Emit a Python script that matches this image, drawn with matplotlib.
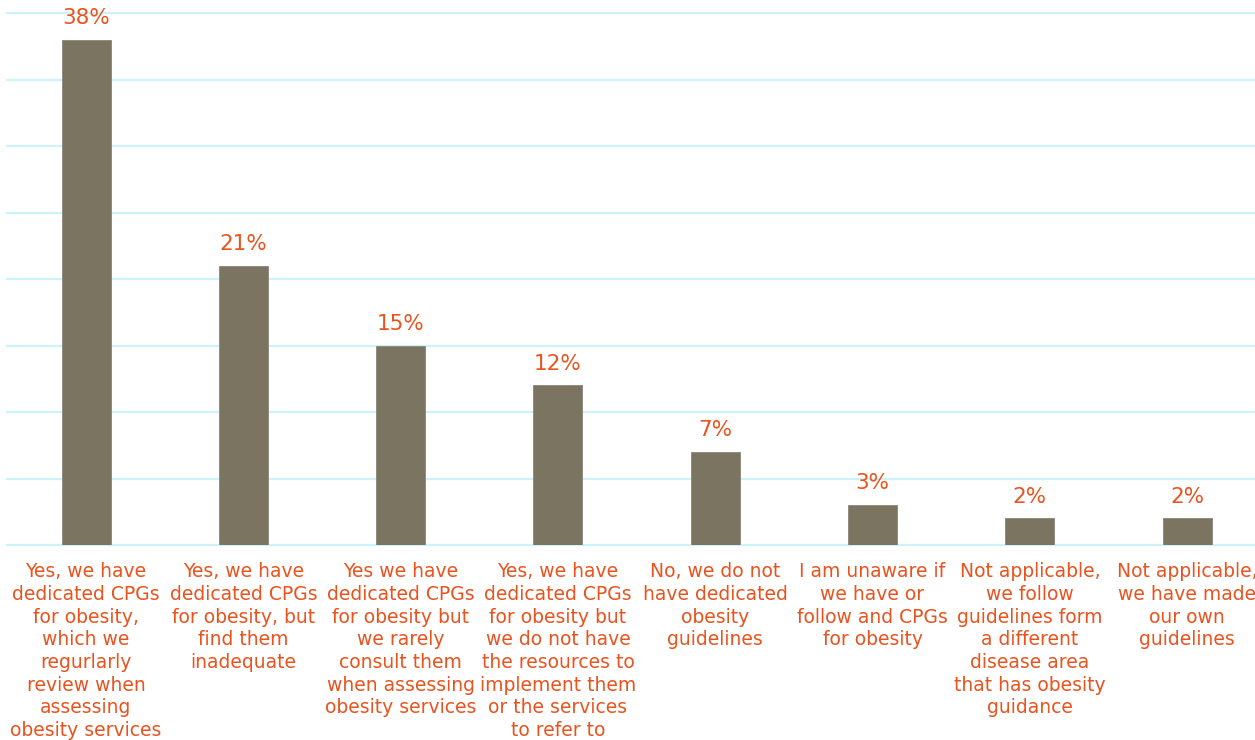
import matplotlib

matplotlib.use("Agg")
matplotlib.rcParams["font.family"] = ["DejaVu Sans"]
import matplotlib.pyplot as plt

categories = [
    "Yes, we have\ndedicated CPGs\nfor obesity,\nwhich we\nregurlarly\nreview when\nassessing\nobesity services",
    "Yes, we have\ndedicated CPGs\nfor obesity, but\nfind them\ninadequate",
    "Yes we have\ndedicated CPGs\nfor obesity but\nwe rarely\nconsult them\nwhen assessing\nobesity services",
    "Yes, we have\ndedicated CPGs\nfor obesity but\nwe do not have\nthe resources to\nimplement them\nor the services\nto refer to",
    "No, we do not\nhave dedicated\nobesity\nguidelines",
    "I am unaware if\nwe have or\nfollow and CPGs\nfor obesity",
    "Not applicable,\nwe follow\nguidelines form\na different\ndisease area\nthat has obesity\nguidance",
    "Not applicable,\nwe have made\nour own\nguidelines",
]
shares = [38, 21, 15, 12, 7, 3, 2, 2]

BAR = "#7B7461"
ORANGE = "#E8531E"
GRID = "#CCF2FA"

fig = plt.figure(figsize=(12.55, 7.40), dpi=100)
ax = fig.add_axes([0.0059, 0.2635, 1.0027, 0.7189])

x = range(len(shares))
ax.bar(x, shares, width=0.312, color=BAR, edgecolor="#8A857A", linewidth=0.6, zorder=3)

# percentage above each bar
for xi, v in zip(x, shares):
    ax.annotate(f"{v}%", (xi, v), xytext=(0, 8.5), textcoords="offset points",
                ha="center", va="bottom", color=ORANGE, fontsize=15.5)

# wrapped category text under the baseline
for xi, lab in zip(x, categories):
    ax.annotate(lab, (xi, 0), xytext=(0, -12.5), textcoords="offset points",
                ha="center", va="top", color=ORANGE, fontsize=13.5,
                linespacing=1.245, annotation_clip=False)

ax.set_xlim(-0.5, len(shares) - 0.5)
ax.set_ylim(0, 40)
ax.set_yticks(range(0, 41, 5))
ax.yaxis.grid(True, color=GRID, linewidth=1.6, zorder=0)
for gl in ax.get_ygridlines():
    gl.set_clip_on(False)
ax.set_axisbelow(True)
ax.tick_params(left=False, bottom=False, labelleft=False, labelbottom=False)
for s in ax.spines.values():
    s.set_visible(False)

fig.savefig("out.png", dpi=100)
